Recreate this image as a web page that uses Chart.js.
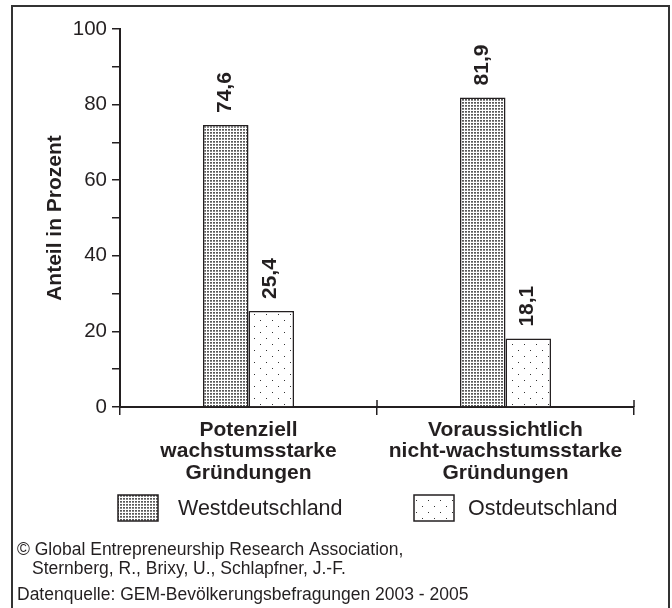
<!DOCTYPE html>
<html><head><meta charset="utf-8">
<script src="https://cdn.jsdelivr.net/npm/chart.js@4/dist/chart.umd.min.js"></script>
<style>html,body{margin:0;padding:0;background:#fff;}</style>
</head><body>
<canvas id="c" width="672" height="608"></canvas>
<script>
const categories = [
  ['Potenziell', 'wachstumsstarke', 'Gründungen'],
  ['Voraussichtlich', 'nicht-wachstumsstarke', 'Gründungen']
];
const seriesNames = ['Westdeutschland', 'Ostdeutschland'];
const westValues = [74.6, 81.9];
const eastValues = [25.4, 18.1];
const yLabelTicks = [0, 20, 40, 60, 80, 100];
const axisTitle = 'Anteil in Prozent';
const footerLines = [
  '© Global Entrepreneurship Research Association,',
  'Sternberg, R., Brixy, U., Schlapfner, J.-F.',
  'Datenquelle: GEM-Bevölkerungsbefragungen 2003 - 2005'
];

const INK = '#231f20';
const FONT = '"Liberation Sans", Arial, Helvetica, sans-serif';
const canvas = document.getElementById('c');

function makePattern(w, h, draw) {
  const c = document.createElement('canvas');
  c.width = w; c.height = h;
  const x = c.getContext('2d');
  x.fillStyle = '#fff'; x.fillRect(0, 0, w, h);
  draw(x);
  return canvas.getContext('2d').createPattern(c, 'repeat');
}
const westPattern = makePattern(3, 3, x => {
  x.fillStyle = '#5a5a5a'; x.fillRect(0, 0, 2, 1);
  x.fillStyle = '#8a8a8a'; x.fillRect(0, 1, 2, 1);
});
const eastPattern = makePattern(12, 12, x => { x.fillStyle = '#333'; x.fillRect(2, 2, 1, 1); x.fillRect(8, 8, 1, 1); });

const decor = {
  id: 'decor',
  beforeDraw(chart) {
    const ctx = chart.ctx;
    ctx.save(); ctx.fillStyle = '#fff'; ctx.fillRect(0, 0, chart.width, chart.height); ctx.restore();
  },
  afterDraw(chart) {
    const ctx = chart.ctx;
    const a = chart.chartArea;
    const xs = chart.scales.x;
    ctx.save();
    // frame
    ctx.strokeStyle = '#333'; ctx.lineWidth = 2;
    ctx.strokeRect(12, 6, 657, 640);
    // crossing tick marks on x axis (upper half)
    ctx.strokeStyle = INK; ctx.lineWidth = 1.5;
    const n = chart.data.labels.length;
    for (let i = 1; i <= n; i++) {
      const px = i < n ? (xs.getPixelForValue(i - 1) + xs.getPixelForValue(i)) / 2 : a.right;
      ctx.beginPath(); ctx.moveTo(px, a.bottom - 7); ctx.lineTo(px, a.bottom); ctx.stroke();
    }
    // value labels (rotated)
    ctx.fillStyle = INK;
    ctx.font = 'bold 21px ' + FONT;
    ctx.textAlign = 'left'; ctx.textBaseline = 'middle';
    chart.data.datasets.forEach((ds, di) => {
      chart.getDatasetMeta(di).data.forEach((el, j) => {
        const txt = ds.data[j].toFixed(1).replace('.', ',');
        ctx.save();
        ctx.translate(el.x - 1, el.y - 12);
        ctx.rotate(-Math.PI / 2);
        ctx.fillText(txt, 0, 0);
        ctx.restore();
      });
    });
    // legend
    const legendBoxX = [118, 414];
    const legendTextX = [178, 468];
    ctx.font = '21.5px ' + FONT;
    chart.data.datasets.forEach((ds, di) => {
      ctx.fillStyle = ds.backgroundColor;
      ctx.fillRect(legendBoxX[di], 495, 40, 26);
      ctx.strokeStyle = INK; ctx.lineWidth = 1.5;
      ctx.strokeRect(legendBoxX[di], 495, 40, 26);
      ctx.fillStyle = INK;
      ctx.textAlign = 'left'; ctx.textBaseline = 'middle';
      ctx.fillText(ds.label, legendTextX[di], 509);
    });
    // footer
    ctx.font = '17.5px ' + FONT;
    ctx.fillStyle = INK;
    ctx.fillText(footerLines[0], 17, 550);
    ctx.fillText(footerLines[1], 32, 569);
    ctx.fillText(footerLines[2], 17, 595);
    ctx.restore();
  }
};

new Chart(canvas, {
  type: 'bar',
  data: {
    labels: categories,
    datasets: [
      { label: seriesNames[0], data: westValues, backgroundColor: westPattern, borderColor: INK, borderWidth: 1.5 },
      { label: seriesNames[1], data: eastValues, backgroundColor: eastPattern, borderColor: INK, borderWidth: 1.5 }
    ]
  },
  options: {
    responsive: false,
    animation: false,
    devicePixelRatio: 1,
    layout: { padding: { left: 20, top: 29, right: 38, bottom: 0 } },
    datasets: { bar: { categoryPercentage: 0.354, barPercentage: 1.0 } },
    plugins: { legend: { display: false }, tooltip: { enabled: false } },
    scales: {
      x: {
        grid: { display: true, drawOnChartArea: false, drawTicks: true, tickLength: 8, color: INK, lineWidth: 1.5, offset: true },
        border: { display: true, color: INK, width: 2 },
        ticks: { color: INK, font: { family: FONT, size: 21, weight: 'bold', lineHeight: 1.03 }, padding: 4, maxRotation: 0, autoSkip: false },
        afterFit(scale) { scale.height = 201; }
      },
      y: {
        min: 0, max: 100,
        grid: { display: true, drawOnChartArea: false, drawTicks: true, tickLength: 8, color: INK, lineWidth: 1.5 },
        border: { display: true, color: INK, width: 2 },
        ticks: {
          stepSize: 10, autoSkip: false, color: INK, padding: 5,
          font: { family: FONT, size: 20.5 },
          callback: v => yLabelTicks.includes(v) ? String(v) : ''
        },
        title: { display: true, text: axisTitle, color: INK, font: { family: FONT, size: 21, weight: 'bold' }, padding: { top: 23, bottom: 0 } },
        afterFit(scale) { scale.width = 100; }
      }
    }
  },
  plugins: [decor]
});
</script>
</body></html>
